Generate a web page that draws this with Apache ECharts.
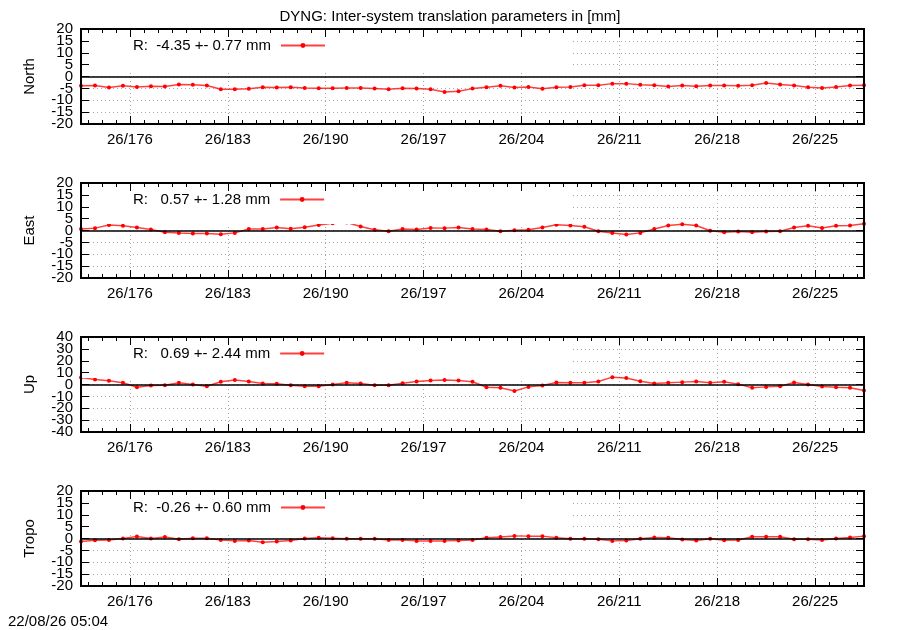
<!DOCTYPE html>
<html>
<head>
<meta charset="utf-8">
<script src="https://cdn.jsdelivr.net/npm/echarts@6/dist/echarts.min.js"></script>
<style>html,body{margin:0;padding:0;background:#fff;}#c{width:900px;height:630px;}</style>
</head>
<body>
<div id="c"></div>
<script>
const days = [172.5,173.5,174.5,175.5,176.5,177.5,178.5,179.5,180.5,181.5,182.5,183.5,184.5,185.5,186.5,187.5,188.5,189.5,190.5,191.5,192.5,193.5,194.5,195.5,196.5,197.5,198.5,199.5,200.5,201.5,202.5,203.5,204.5,205.5,206.5,207.5,208.5,209.5,210.5,211.5,212.5,213.5,214.5,215.5,216.5,217.5,218.5,219.5,220.5,221.5,222.5,223.5,224.5,225.5,226.5,227.5,228.5];
const north = [-3.9,-3.8,-4.6,-3.9,-4.4,-4.1,-4.2,-3.4,-3.5,-3.8,-5.4,-5.4,-5.2,-4.5,-4.6,-4.5,-4.8,-4.9,-4.9,-4.8,-4.8,-5.1,-5.4,-4.9,-5.1,-5.4,-6.5,-6.2,-5.1,-4.5,-3.9,-4.6,-4.4,-5.2,-4.5,-4.4,-3.7,-3.7,-3.0,-3.0,-3.5,-3.7,-4.2,-3.8,-4.1,-3.8,-3.8,-3.9,-3.7,-2.7,-3.4,-3.8,-4.5,-4.8,-4.4,-3.8,-3.7];
const east = [0.6,1.0,2.3,2.0,1.3,0.4,-0.7,-1.1,-1.3,-1.3,-1.6,-1.0,0.6,0.6,1.3,0.7,1.4,2.3,3.1,3.4,1.7,0.3,-0.3,0.6,0.4,1.1,1.0,1.3,0.6,0.4,-0.3,0.1,0.3,1.3,2.4,2.1,1.6,-0.3,-1.1,-1.7,-1.0,0.6,2.1,2.6,2.1,-0.1,-0.7,-0.4,-0.7,-0.4,-0.3,1.3,2.0,1.1,2.0,2.1,2.8];
const up = [5.9,4.2,3.1,1.4,-2.3,-0.8,-0.6,1.4,0,-1.4,2.3,3.7,2.5,0.8,0.6,-0.6,-1.4,-1.4,0,1.4,0.8,-0.6,-0.6,1.1,2.5,3.4,3.7,3.4,2.3,-2.3,-2.8,-5.4,-2.0,-0.8,1.7,1.4,1.4,2.5,6.2,5.4,2.8,0.8,1.4,2.0,2.5,1.4,2.3,0.3,-2.8,-2.0,-1.4,1.7,0,-1.7,-2.3,-2.8,-5.1];
const tropo = [-1.3,-0.7,-0.6,0,0.8,0,0.6,-0.3,0.1,0.1,-0.6,-1.0,-0.8,-1.6,-1.3,-0.8,0,0.3,0.1,-0.1,-0.1,-0.1,-0.6,-0.6,-1.0,-1.0,-1.0,-0.8,-0.6,0.3,0.6,1.1,1.0,1.0,0.3,-0.1,-0.1,-0.3,-1.0,-0.8,-0.1,0.4,0.3,-0.4,-0.8,-0.1,-0.7,-0.6,0.7,0.7,0.7,-0.3,-0.3,-0.6,0,0.4,1.0];
const seriesNames = ['R:  -4.35 +- 0.77 mm','R:   0.57 +- 1.28 mm','R:   0.69 +- 2.44 mm','R:  -0.26 +- 0.60 mm'];
const panelLabels = ['North','East','Up','Tropo'];
const yLimits = [20,20,40,20];
const ySteps = [5,5,10,5];
const yTicksEven = [[-20,-10,0,10,20],[-20,-10,0,10,20],[-40,-20,0,20,40],[-20,-10,0,10,20]];
const yTicksOdd = [[-15,-5,5,15],[-15,-5,5,15],[-30,-10,10,30],[-15,-5,5,15]];
const majorDays = [176,183,190,197,204,211,218,225];
const minorDays = [173,174,175,176,177,178,179,180,181,182,183,184,185,186,187,188,189,190,191,192,193,194,195,196,197,198,199,200,201,202,203,204,205,206,207,208,209,210,211,212,213,214,215,216,217,218,219,220,221,222,223,224,225,226,227,228];
const titleText = 'DYNG: Inter-system translation parameters in [mm]';
const stampText = '22/08/26 05:04';

const allValues = [north, east, up, tropo];
const FONT = "'Liberation Sans', Arial, sans-serif";
const tops = [29, 183, 337, 491];
const XMIN = 172.5, XMAX = 228.5;

const grids = [], xAxes = [], yAxes = [], series = [], legends = [];
for (let p = 0; p < 4; p++) {
  grids.push({left: 81, width: 783, top: tops[p], height: 95, show: true, borderColor: '#000', borderWidth: 2, backgroundColor: 'transparent', z: 10});
  const xb = xAxes.length;
  xAxes.push({type: 'value', gridIndex: p, min: XMIN, max: XMAX, position: 'bottom', z: 0,
    axisLine: {show: false, onZero: false},
    axisTick: {show: false, customValues: majorDays},
    axisLabel: {show: true, customValues: majorDays, formatter: v => '26/' + v, fontSize: 15, color: '#000', fontFamily: FONT, margin: 8},
    splitLine: {show: true, lineStyle: {color: '#a8a8a8', type: [1, 3], width: 1}}});
  const tickAxis = (pos, vals, len) => ({type: 'value', gridIndex: p, min: XMIN, max: XMAX, position: pos, z: 10,
    axisLine: {show: true, onZero: false, lineStyle: {color: '#000', width: 2}},
    axisTick: {show: true, inside: true, length: len, customValues: vals, lineStyle: {color: '#000', width: 1}},
    axisLabel: {show: true, customValues: vals, formatter: () => '', fontSize: 1}, splitLine: {show: false}});
  xAxes.push(tickAxis('bottom', majorDays, 8));
  xAxes.push(tickAxis('bottom', minorDays, 4));
  xAxes.push(tickAxis('top', majorDays, 8));
  xAxes.push(tickAxis('top', minorDays, 4));
  const yb = yAxes.length;
  const yLabelAxis = (vals, withGrid) => ({type: 'value', gridIndex: p, min: -yLimits[p], max: yLimits[p], interval: ySteps[p], position: 'left', z: 0,
    name: withGrid ? panelLabels[p] : '', nameLocation: 'middle', nameGap: 44, nameRotate: 90,
    nameTextStyle: {fontSize: 15, color: '#000', fontFamily: FONT},
    axisLine: {show: false, onZero: false}, axisTick: {show: false, customValues: vals},
    axisLabel: {fontSize: 15, color: '#000', fontFamily: FONT, margin: 8, customValues: vals, showMinLabel: true, showMaxLabel: true, hideOverlap: false},
    splitLine: {show: false}});
  yAxes.push(yLabelAxis(yTicksEven[p], true));
  yAxes.push(yLabelAxis(yTicksOdd[p], false));
  // grid lines
  yAxes.push({type: 'value', gridIndex: p, min: -yLimits[p], max: yLimits[p], interval: ySteps[p], position: 'left', z: 0,
    axisLine: {show: false, onZero: false}, axisTick: {show: false}, axisLabel: {show: false},
    splitLine: {show: true, lineStyle: {color: '#a8a8a8', type: [1, 3], width: 1}}});
  const yTick = pos => ({type: 'value', gridIndex: p, min: -yLimits[p], max: yLimits[p], interval: ySteps[p], position: pos, z: 10,
    axisLine: {show: true, onZero: false, lineStyle: {color: '#000', width: 2}},
    axisTick: {show: true, inside: true, length: 8, lineStyle: {color: '#000', width: 1}},
    axisLabel: {show: true, formatter: () => '', fontSize: 1}, splitLine: {show: false}});
  yAxes.push(yTick('left'));
  yAxes.push(yTick('right'));
  series.push({type: 'line', name: seriesNames[p], xAxisIndex: xb, yAxisIndex: yb,
    data: days.map((d, i) => [d, allValues[p][i]]),
    symbol: 'circle', symbolSize: 4, showSymbol: true,
    itemStyle: {color: '#ff0000'},
    lineStyle: {color: 'rgba(255,0,0,0.75)', width: 1.5},
    animation: false, z: 3,
    markLine: {silent: true, symbol: 'none', label: {show: false}, animation: false,
      lineStyle: {color: '#000', width: 1.5, type: 'solid'}, data: [{yAxis: 0}]}});
  legends.push({show: true, data: [seriesNames[p]], left: 82, top: tops[p] + 1, orient: 'horizontal', align: 'right',
    itemWidth: 44, itemHeight: 6, padding: [8, 246, 17, 51], backgroundColor: '#fff', z: 5, selectedMode: false,
    textStyle: {fontSize: 15, color: '#000', fontFamily: FONT, padding: [0, 5, 0, 0]}});
}

const chart = echarts.init(document.getElementById('c'), null, {renderer: 'canvas'});
chart.setOption({
  backgroundColor: '#fff',
  animation: false,
  title: {text: titleText, left: 'center', top: 4, textStyle: {fontSize: 15, fontWeight: 'normal', color: '#000', fontFamily: FONT}},
  legend: legends,
  grid: grids,
  xAxis: xAxes,
  yAxis: yAxes,
  series: series,
  graphic: [{type: 'text', left: 8, top: 614, style: {text: stampText, font: '15px ' + FONT, fill: '#000'}}]
});
</script>
</body>
</html>
